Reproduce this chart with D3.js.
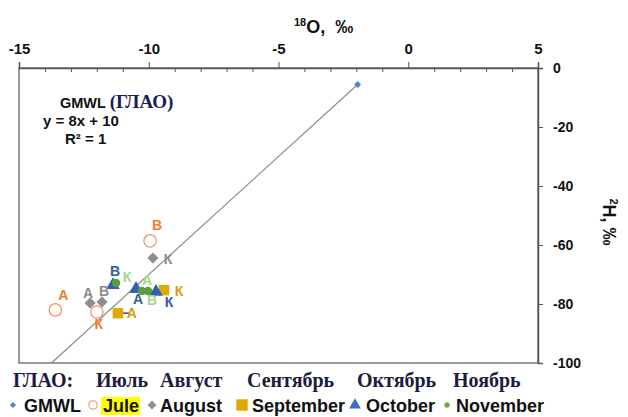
<!DOCTYPE html>
<html lang="ru">
<head>
<meta charset="utf-8">
<title>GMWL</title>
<script src="https://d3js.org/d3.v7.min.js"></script>
<style>
  body { margin: 0; background: #fff; }
  text { font-family: "Liberation Sans", Arial, sans-serif; white-space: pre; }
  .serif { font-family: "Liberation Serif", "Times New Roman", serif; }
</style>
</head>
<body>
<script>
// ---- data ----
var xTicks = [-15, -10, -5, 0, 5];
var yTicks = [0, -20, -40, -60, -80, -100];
var gmwlLine = [[-13.75, -100], [-1.95, -5.6]];
var gmwlPoints = [[-1.95, -5.6]];

var juleX = [-13.6, -12.0, -9.95];
var juleY = [-82.0, -82.7, -58.6];
var juleLab = ["А", "К", "В"];

var augustX = [-12.26, -11.8, -9.84];
var augustY = [-79.7, -79.3, -64.4];
var augustLab = ["А", "В", "К"];

var septemberX = [-11.19, -9.41];
var septemberY = [-83.1, -75.3];
var septemberLab = ["А", "К"];

var octoberX = [-11.38, -10.49, -9.72];
var octoberY = [-73.6, -74.9, -75.9];
var octoberLab = ["В", "А", "К"];

var novemberX = [-11.26, -10.26, -10.03];
var novemberY = [-72.9, -75.6, -75.6];
var novemberLab = ["К", "А", "В"];

var months = ["ГЛАО:", "Июль", "Август", "Сентябрь", "Октябрь", "Ноябрь"];
var legendNames = ["GMWL", "Jule", "August", "September", "October", "November"];

// ---- chart ----
var width = 628, height = 417;
var svg = d3.select("body").append("svg")
    .attr("width", width)
    .attr("height", height);

var x = d3.scaleLinear().domain([-15, 5]).range([19, 538]);
var y = d3.scaleLinear().domain([-100, 0]).range([363, 68]);

// frame
svg.append("rect")
    .attr("x", x(-15)).attr("y", y(0))
    .attr("width", x(5) - x(-15)).attr("height", y(-100) - y(0))
    .attr("fill", "none").attr("stroke", "#555").attr("stroke-width", 1.2);

// top axis, minor ticks inside
svg.append("g")
    .attr("transform", "translate(0," + y(0) + ")")
    .call(d3.axisTop(x).tickValues(d3.range(-14, 5, 1).filter(function(d) { return d % 5 != 0; }))
        .tickSize(-4).tickFormat(""))
    .call(function(g) { g.select(".domain").remove(); g.selectAll("line").attr("stroke", "#555"); });

var xAxis = svg.append("g")
    .attr("transform", "translate(0," + y(0) + ")")
    .call(d3.axisTop(x).tickValues(xTicks).tickSize(6).tickPadding(8)
        .tickFormat(function(d) { return String(d); }));
xAxis.select(".domain").attr("stroke", "#555").attr("stroke-width", 1.5);
xAxis.selectAll("line").attr("stroke", "#555");
xAxis.selectAll("text")
    .attr("font-size", 15).attr("font-weight", "bold").attr("fill", "#111")
    .style("font-family", "Liberation Sans, Arial, sans-serif");

// right axis
var yAxis = svg.append("g")
    .attr("transform", "translate(" + x(5) + ",0)")
    .call(d3.axisRight(y).tickValues(yTicks).tickSize(5).tickPadding(10)
        .tickFormat(function(d) { return String(d); }));
yAxis.select(".domain").attr("stroke", "#555").attr("stroke-width", 1.5);
yAxis.selectAll("line").attr("stroke", "#555");
yAxis.selectAll("text")
    .attr("font-size", 14).attr("font-weight", "bold").attr("fill", "#111")
    .style("font-family", "Liberation Sans, Arial, sans-serif");

// axis titles
var t1 = svg.append("text")
    .attr("x", 294).attr("y", 33)
    .attr("font-size", 18).attr("font-weight", "bold").attr("fill", "#111");
t1.append("tspan").attr("font-size", 11).attr("dy", -7).text("18");
t1.append("tspan").attr("dy", 7).text("O,  ‰");

var t2 = svg.append("text")
    .attr("transform", "translate(603,222) rotate(90)")
    .attr("text-anchor", "middle")
    .attr("font-size", 18).attr("font-weight", "bold").attr("fill", "#111");
t2.append("tspan").attr("font-size", 11).attr("dy", -7).text("2");
t2.append("tspan").attr("dy", 7).text("H, ‰");

// GMWL line
var line = d3.line().x(function(d) { return x(d[0]); }).y(function(d) { return y(d[1]); });
svg.append("path")
    .datum(gmwlLine)
    .attr("d", line)
    .attr("fill", "none").attr("stroke", "#8c8c8c").attr("stroke-width", 1.2);

var diamond = d3.symbol().type(d3.symbolDiamond2);
svg.selectAll(".gmwl").data(gmwlPoints).enter().append("path")
    .attr("transform", function(d) { return "translate(" + x(d[0]) + "," + y(d[1]) + ")"; })
    .attr("d", diamond.size(30)())
    .attr("fill", "#4a86c8");

// annotation
var ann = svg.append("text").attr("x", 60).attr("y", 108).attr("font-weight", "bold").attr("fill", "#111");
ann.append("tspan").attr("font-size", 14.5).text("GMWL ");
ann.append("tspan").attr("class", "serif").attr("font-size", 19).attr("fill", "#1c1c52").text("(ГЛАО)");
svg.append("text").attr("x", 43).attr("y", 126).attr("font-size", 15).attr("font-weight", "bold")
    .attr("fill", "#111").text("y = 8x + 10");
svg.append("text").attr("x", 65).attr("y", 144).attr("font-size", 15).attr("font-weight", "bold")
    .attr("fill", "#111").text("R² = 1");

// series
function zip(xs, ys, ls) {
    return xs.map(function(v, i) { return { x: v, y: ys[i], lab: ls[i] }; });
}

var series = [
    { data: zip(juleX, juleY, juleLab), sym: d3.symbolCircle, size: 120, fill: "#fff", stroke: "#f0956a", labColor: "#f07a30",
      off: [[8, -14], [2, 13], [7, -15]] },
    { data: zip(augustX, augustY, augustLab), sym: d3.symbolDiamond2, size: 80, fill: "#8e8e8e", stroke: "none", labColor: "#8a8a8a",
      off: [[-2, -9], [2, -10], [15, 2]] },
    { data: zip(septemberX, septemberY, septemberLab), sym: d3.symbolSquare, size: 110, fill: "#e0a800", stroke: "none", labColor: "#d4a000",
      off: [[14, 1], [15, 2]] },
    { data: zip(octoberX, octoberY, octoberLab), sym: d3.symbolTriangle, size: 80, fill: "#3160b0", stroke: "none", labColor: "#2e5ca8",
      off: [[2, -13], [2, 11], [13, 11]] },
    { data: zip(novemberX, novemberY, novemberLab), sym: d3.symbolCircle, size: 55, fill: "#5a9e3a", stroke: "none", labColor: "#a6d68e",
      off: [[11, -5], [5, -10], [4, 10]] }
];

// the short dash next to the September "А" square
svg.append("line")
    .attr("x1", x(septemberX[0]) + 5).attr("x2", x(septemberX[0]) + 11)
    .attr("y1", y(septemberY[0])).attr("y2", y(septemberY[0]))
    .attr("stroke", "#222").attr("stroke-width", 1.2);

series.forEach(function(s) {
    svg.append("g").selectAll("path").data(s.data).enter().append("path")
        .attr("transform", function(d) { return "translate(" + x(d.x) + "," + y(d.y) + ")"; })
        .attr("d", d3.symbol().type(s.sym).size(s.size)())
        .attr("fill", s.fill)
        .attr("stroke", s.stroke).attr("stroke-width", 1.3);
});
series.forEach(function(s) {
    svg.append("g").selectAll("text").data(s.data).enter().append("text")
        .attr("x", function(d, i) { return x(d.x) + s.off[i][0]; })
        .attr("y", function(d, i) { return y(d.y) + s.off[i][1]; })
        .attr("text-anchor", "middle").attr("dominant-baseline", "middle")
        .attr("font-size", 14).attr("font-weight", "bold")
        .attr("fill", s.labColor)
        .text(function(d) { return d.lab; });
});

// months row
var monthX = [13, 96, 160, 247, 357, 453];
svg.append("g").selectAll("text").data(months).enter().append("text")
    .attr("class", "serif")
    .attr("x", function(d, i) { return monthX[i]; })
    .attr("y", 387)
    .attr("font-size", 20).attr("font-weight", "bold").attr("fill", "#1c1c40")
    .text(function(d) { return d; });

// legend
var legSymX = [13, 93, 152, 242, 355, 447];
var legTextX = [24, 103, 160, 252, 366, 456];
var legSym = [
    { sym: d3.symbolDiamond2, size: 24, fill: "#4a86c8", stroke: "none" },
    { sym: d3.symbolCircle, size: 55, fill: "#fff", stroke: "#f0a080" },
    { sym: d3.symbolDiamond2, size: 50, fill: "#909090", stroke: "none" },
    { sym: d3.symbolSquare, size: 130, fill: "#e0a800", stroke: "none" },
    { sym: d3.symbolTriangle, size: 60, fill: "#3a6cc0", stroke: "none" },
    { sym: d3.symbolCircle, size: 22, fill: "#6aaa40", stroke: "none" }
];
var leg = svg.append("g").selectAll("g").data(legendNames).enter().append("g");
leg.filter(function(d) { return d == "Jule"; }).append("rect")
    .attr("x", 101).attr("y", 397).attr("width", 39).attr("height", 18).attr("fill", "#ffff00");
leg.append("path")
    .attr("transform", function(d, i) { return "translate(" + legSymX[i] + ",405)"; })
    .attr("d", function(d, i) { return d3.symbol().type(legSym[i].sym).size(legSym[i].size)(); })
    .attr("fill", function(d, i) { return legSym[i].fill; })
    .attr("stroke", function(d, i) { return legSym[i].stroke; }).attr("stroke-width", 1.2);
leg.append("text")
    .attr("x", function(d, i) { return legTextX[i]; }).attr("y", 412)
    .attr("font-size", 18).attr("font-weight", "bold").attr("fill", "#111")
    .text(function(d) { return d; });
</script>
</body>
</html>
